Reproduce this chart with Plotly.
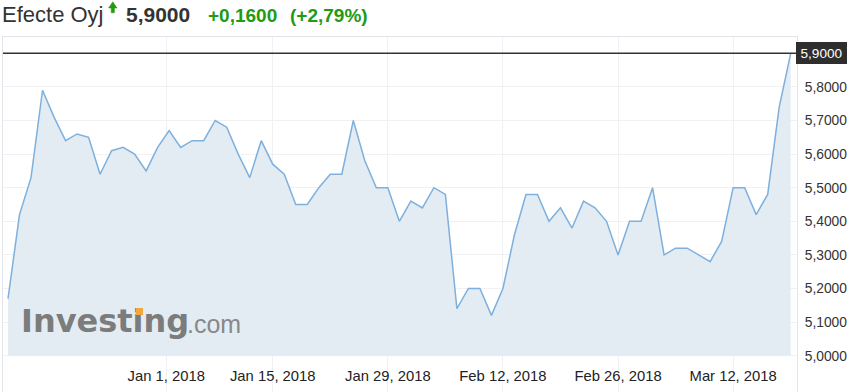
import numpy as np
import pandas as pd
import plotly.graph_objects as go

# ---------------- data ----------------
prices = [5.17, 5.42, 5.53, 5.79, 5.71, 5.64, 5.66, 5.65, 5.54, 5.61,
          5.62, 5.60, 5.55, 5.62, 5.67, 5.62, 5.64, 5.64, 5.70, 5.68,
          5.60, 5.53, 5.64, 5.57, 5.54, 5.45, 5.45, 5.50, 5.54, 5.54,
          5.70, 5.58, 5.50, 5.50, 5.40, 5.46, 5.44, 5.50, 5.48, 5.14,
          5.20, 5.20, 5.12, 5.20, 5.36, 5.48, 5.48, 5.40, 5.44, 5.38,
          5.46, 5.44, 5.40, 5.30, 5.40, 5.40, 5.50, 5.30, 5.32, 5.32,
          5.30, 5.28, 5.34, 5.50, 5.50, 5.42, 5.48, 5.74, 5.90]

holidays = ["2017-12-25", "2017-12-26", "2018-01-01"]
trading_days = [d for d in pd.bdate_range("2017-12-08", "2018-03-19")
                if d.strftime("%Y-%m-%d") not in holidays]

tick_dates = ["2018-01-01", "2018-01-15", "2018-01-29",
              "2018-02-12", "2018-02-26", "2018-03-12"]
tick_labels = ["Jan 1, 2018", "Jan 15, 2018", "Jan 29, 2018",
               "Feb 12, 2018", "Feb 26, 2018", "Mar 12, 2018"]

y_ticks = [4.9, 5.0, 5.1, 5.2, 5.3, 5.4, 5.5, 5.6, 5.7, 5.8]

title_name = "Efecte Oyj"
last_price = "5,9000"
change_abs = "+0,1600"
change_pct = "(+2,79%)"
baseline = 5.0

# ---------------- geometry helpers ----------------
L, R, T, B = 3, 797, 37, 392
W, H = 856, 392


def px(x):
    return (x - L) / (R - L)


def py(y):
    return (B - y) / (B - T)


idx = list(range(len(prices)))
tick_pos = np.interp([pd.Timestamp(d).toordinal() for d in tick_dates],
                     [d.toordinal() for d in trading_days], idx)

FONT = "Liberation Sans, Arial, sans-serif"
GREEN = "#229a12"
DARK = "#333333"

fig = go.Figure()
fig.add_trace(go.Scatter(x=idx, y=[baseline] * len(prices), mode="lines",
                         line=dict(width=0, color="rgba(0,0,0,0)"),
                         hoverinfo="skip", showlegend=False))
fig.add_trace(go.Scatter(x=idx, y=prices, mode="lines", fill="tonexty",
                         fillcolor="#e3ecf3",
                         line=dict(color="#7eb0dd", width=1.5),
                         showlegend=False))

# last price line
fig.add_shape(type="line", xref="paper", yref="y", x0=0, x1=1,
              y0=prices[-1], y1=prices[-1],
              line=dict(color=DARK, width=1.5), layer="above")

ann = []
# header
ann.append(dict(text=title_name, x=px(0), y=py(14), xanchor="left", yanchor="middle",
                font=dict(family=FONT, size=22, color=DARK)))
ann.append(dict(text="<b>" + last_price + "</b>", x=px(124), y=py(14), xanchor="left",
                yanchor="middle", font=dict(family=FONT, size=21, color=DARK)))
ann.append(dict(text="<b>" + change_abs + "</b>", x=px(206), y=py(15), xanchor="left",
                yanchor="middle", font=dict(family=FONT, size=19, color=GREEN)))
ann.append(dict(text="<b>" + change_pct + "</b>", x=px(288), y=py(15), xanchor="left",
                yanchor="middle", font=dict(family=FONT, size=19, color=GREEN)))
# watermark
ann.append(dict(text="<b>Investing</b>", x=px(19), y=py(321), xanchor="left",
                yanchor="middle", font=dict(family="DejaVu Sans", size=32, color="#7c7c7c")))
ann.append(dict(text=".com", x=px(185), y=py(324), xanchor="left",
                yanchor="middle", font=dict(family=FONT, size=25, color="#888888")))
ann.append(dict(text="", x=px(139), y=py(311), xanchor="center", yanchor="middle",
                width=7, height=7, bgcolor="#f1a73c", borderpad=0, borderwidth=0))
# last value label
ann.append(dict(text=last_price, x=px(796), y=prices[-1], yref="y", xanchor="left",
                yanchor="middle", width=47, height=18, borderpad=2, borderwidth=0,
                bgcolor="#2e2e2e", align="center",
                font=dict(family=FONT, size=13.6, color="white")))
for a in ann:
    a.setdefault("xref", "paper")
    a.setdefault("yref", "paper")
    a["showarrow"] = False
fig.update_layout(annotations=ann)

# arrow icon
path = (f"M {px(112.8)} {py(1.8)} L {px(117.0)} {py(8.0)} L {px(114.4)} {py(8.0)} "
        f"L {px(114.4)} {py(12.8)} L {px(111.2)} {py(12.8)} L {px(111.2)} {py(8.0)} "
        f"L {px(108.6)} {py(8.0)} Z")
fig.add_shape(type="path", xref="paper", yref="paper", path=path,
              fillcolor=GREEN, line=dict(width=0.5, color=GREEN))

n = len(prices)
fig.update_layout(
    width=W, height=H,
    margin=dict(l=L, r=W - R, t=T, b=H - B, pad=0),
    paper_bgcolor="white", plot_bgcolor="white",
    separators=",.",
    font=dict(family=FONT, color=DARK),
    xaxis=dict(range=[-(8 - L) / 11.51, (n - 1) + (R - 790.7) / 11.51],
               tickmode="array", tickvals=list(tick_pos), ticktext=tick_labels,
               ticklabelposition="inside", ticks="", ticklabelstandoff=8,
               tickfont=dict(family=FONT, size=14.8, color="#222222"),
               showgrid=True, gridcolor="#f1f1f4", gridwidth=1,
               showline=True, linecolor="#e3e3ea", linewidth=1, mirror=True,
               zeroline=False, fixedrange=True),
    yaxis=dict(range=[5.9 - (B - 53.3) / 336, 5.9 + (53.3 - T) / 336],
               side="right", tickmode="array", tickvals=y_ticks, tickformat=".4f",
               ticks="outside", ticklen=4, tickcolor="rgba(0,0,0,0)",
               tickfont=dict(family=FONT, size=13.8, color=DARK),
               showgrid=True, gridcolor="#f1f1f4", gridwidth=1,
               showline=True, linecolor="#e3e3ea", linewidth=1, mirror=True,
               zeroline=False, fixedrange=True),
)

fig.write_html("out.html")
